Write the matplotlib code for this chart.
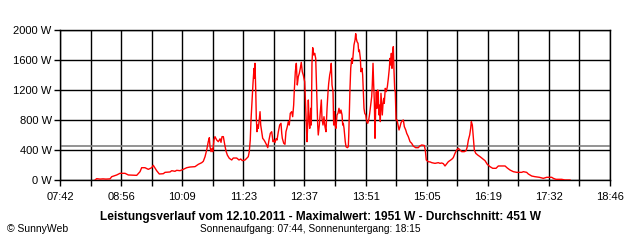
import numpy as np
import matplotlib
matplotlib.use("Agg")
import matplotlib.pyplot as plt

plt.rcParams['font.family'] = ['Liberation Sans', 'DejaVu Sans']

# power readings: time of day (minutes since midnight) and output in W
minutes = [
    504.3, 506.3, 510.3, 513.9, 517.5, 522.4, 524.4, 530.5, 534.4, 540.5,
    544.5, 554.6, 558.6, 560.6, 564.6, 568.6, 572.7, 574.6, 578.7, 581.9,
    586.7, 588.8, 594.8, 596.9, 600.8, 602.9, 606.9, 610.9, 615.0, 618.9,
    625.0, 629.0, 633.1, 635.0, 637.1, 639.1, 641.0, 642.3, 643.1, 644.3,
    645.5, 646.4, 647.9, 649.1, 651.2, 653.1, 655.2, 656.4, 657.6, 659.2,
    660.8, 662.4, 664.0, 666.4, 669.3, 671.2, 675.3, 678.1, 680.2, 682.1,
    685.4, 687.4, 689.3, 690.5, 691.7, 692.6, 693.8, 695.0, 696.2, 696.6,
    697.4, 698.3, 699.0, 699.8, 700.6, 701.4, 702.3, 703.5, 704.3, 705.5,
    706.7, 708.3, 709.5, 711.5, 712.8, 714.3, 715.9, 717.6, 719.2, 720.4,
    721.6, 722.8, 724.0, 725.6, 727.2, 728.8, 729.7, 730.4, 732.1, 733.6,
    734.8, 736.4, 737.6, 738.8, 740.0, 741.7, 742.9, 744.1, 744.9, 746.1,
    747.3, 748.5, 749.7, 750.9, 752.1, 753.3, 754.5, 755.7, 757.4, 758.6,
    759.4, 760.2, 761.0, 761.8, 762.6, 763.5, 764.7, 765.4, 766.2, 767.1,
    768.3, 769.5, 770.7, 771.4, 772.3, 773.1, 773.8, 775.1, 776.3, 777.5,
    778.3, 779.5, 780.7, 781.9, 783.1, 784.4, 785.6, 786.4, 787.6, 788.8,
    789.5, 790.4, 791.6, 792.4, 793.2, 794.0, 795.2, 796.4, 797.6, 798.8,
    800.0, 801.2, 802.5, 803.3, 804.0, 804.9, 805.7, 806.4, 807.3, 808.9,
    810.1, 810.6, 811.3, 812.1, 813.0, 814.2, 814.9, 815.7, 816.9, 818.2,
    819.0, 819.7, 820.6, 821.8, 822.6, 823.4, 824.6, 825.4, 826.6, 827.4,
    828.2, 829.0, 829.9, 831.1, 832.3, 833.5, 834.7, 835.9, 837.1, 838.3,
    839.0, 839.9, 840.7, 841.5, 842.3, 843.1, 843.9, 844.7, 845.6, 846.3,
    847.1, 848.0, 848.7, 849.5, 850.4, 851.1, 852.0, 852.8, 853.5, 854.7,
    855.9, 857.2, 858.4, 859.6, 860.4, 861.3, 862.0, 862.8, 863.7, 864.4,
    865.2, 866.1, 866.8, 867.7, 868.9, 870.1, 871.3, 872.5, 873.7, 875.3,
    876.5, 877.7, 879.4, 880.6, 882.5, 884.6, 886.6, 888.5, 891.4, 894.6,
    896.3, 898.7, 901.8, 903.0, 904.2, 906.6, 909.1, 910.8, 914.7, 918.7,
    920.8, 922.8, 924.8, 926.8, 928.9, 930.8, 934.9, 936.8, 938.9, 940.9,
    942.9, 944.9, 947.0, 950.1, 952.2, 953.7, 955.0, 956.6, 957.8, 958.6,
    959.8, 960.6, 961.5, 962.2, 963.9, 966.3, 969.1, 973.1, 975.1, 977.9,
    981.1, 984.4, 988.4, 991.2, 999.3, 1002.0, 1005.3, 1009.3, 1013.4, 1019.4,
    1021.4, 1025.4, 1027.4, 1031.5, 1035.5, 1040.7, 1045.5, 1049.6, 1055.6, 1057.6,
    1060.8, 1067.7, 1071.7, 1077.7,
]
watts = [
    0, 18, 12, 15, 12, 15, 44, 67, 89, 89,
    67, 62, 111, 164, 164, 142, 164, 196, 124, 80,
    84, 102, 107, 124, 116, 129, 124, 142, 164, 173,
    178, 209, 231, 249, 311, 400, 511, 564, 444, 378,
    420, 378, 533, 578, 533, 511, 549, 502, 578, 578,
    476, 387, 333, 289, 267, 293, 293, 267, 280, 258,
    267, 289, 311, 378, 533, 800, 1044, 1289, 1489, 1356,
    1556, 1200, 822, 644, 733, 689, 778, 911, 733, 644,
    556, 533, 510, 467, 431, 533, 622, 644, 511, 533,
    500, 550, 533, 644, 733, 756, 622, 556, 489, 476,
    644, 711, 778, 733, 889, 911, 844, 1000, 1200, 1444,
    1556, 1267, 1378, 1422, 1489, 1569, 1444, 1400, 1311, 956,
    733, 511, 733, 1067, 822, 689, 956, 733, 1556, 1764,
    1667, 1689, 1622, 1356, 1044, 733, 600, 733, 911, 1067,
    822, 733, 844, 711, 644, 956, 1178, 1289, 1400, 1467,
    1556, 1267, 1178, 733, 911, 733, 689, 867, 889, 956,
    889, 933, 867, 733, 756, 689, 600, 511, 444, 431,
    444, 600, 911, 1222, 1489, 1622, 1556, 1644, 1800, 1867,
    1951, 1889, 1844, 1822, 1711, 1733, 1622, 1444, 1489, 1400,
    1178, 956, 889, 867, 778, 756, 800, 889, 1000, 1111,
    1267, 1556, 1267, 1044, 556, 956, 1178, 956, 1200, 1111,
    867, 1000, 778, 1156, 1000, 867, 1022, 1089, 1022, 1222,
    1178, 1244, 1356, 1489, 1622, 1533, 1689, 1489, 1711, 1778,
    1467, 1200, 1178, 800, 800, 733, 667, 711, 764, 791,
    800, 711, 667, 622, 578, 511, 489, 453, 431, 431,
    453, 467, 460, 400, 267, 244, 240, 231, 222, 231,
    222, 227, 218, 187, 218, 244, 276, 298, 356, 400,
    422, 400, 378, 378, 390, 444, 533, 600, 689, 778,
    733, 622, 489, 400, 356, 333, 311, 276, 258, 209,
    178, 156, 156, 187, 187, 160, 133, 111, 102, 102,
    111, 102, 80, 53, 44, 36, 22, 36, 36, 22,
    9, 9, 0, 0,
]

avg_w = 451
x_labels = ['07:42', '08:56', '10:09', '11:23', '12:37', '13:51',
            '15:05', '16:19', '17:32', '18:46']
y_ticks = [0, 400, 800, 1200, 1600, 2000]
t_start, t_end = 462, 1126  # 07:42 .. 18:46

title = 'Leistungsverlauf vom 12.10.2011 - Maximalwert: 1951 W - Durchschnitt: 451 W'
subtitle = 'Sonnenaufgang: 07:44, Sonnenuntergang: 18:15'

fig = plt.figure(figsize=(6.4, 2.4), dpi=100)
ax = fig.add_axes([60 / 640, 60 / 240, 550 / 640, 150 / 240])

# a tick every half step, label only on every second one
minor = np.linspace(t_start, t_end, 2 * len(x_labels) - 1)
tick_text = []
for i in range(len(minor)):
    tick_text.append(x_labels[i // 2] if i % 2 == 0 else '')

for x in minor:
    ax.axvline(x, color='black', lw=1.0, zorder=1)
for y in y_ticks:
    ax.axhline(y, color='black', lw=1.0, zorder=1)
ax.axhline(avg_w, color='#808080', lw=1.2, zorder=2)

ax.plot(minutes, watts, color='red', lw=1.0, zorder=3)

ax.set_xlim(t_start, t_end)
ax.set_ylim(0, 2000)
ax.set_xticks(minor)
ax.set_xticklabels(tick_text)
ax.set_yticks(y_ticks)
ax.set_yticklabels([f'{v} W' for v in y_ticks])
ax.tick_params(axis='both', direction='out', length=4, width=1.0,
               color='black', labelsize=8, pad=2)
ax.tick_params(axis='x', pad=5)
for s in ax.spines.values():
    s.set_color('black')
    s.set_linewidth(1.0)

fig.text(320 / 640, 1 - 217 / 240, title, ha='center', va='center',
         fontsize=8.6, fontweight='bold')
fig.text(310 / 640, 1 - 229 / 240, subtitle, ha='center', va='center',
         fontsize=7.3)
fig.text(7 / 640, 1 - 229 / 240, '© SunnyWeb', ha='left', va='center',
         fontsize=7.5)

fig.savefig('out.png', dpi=100)
